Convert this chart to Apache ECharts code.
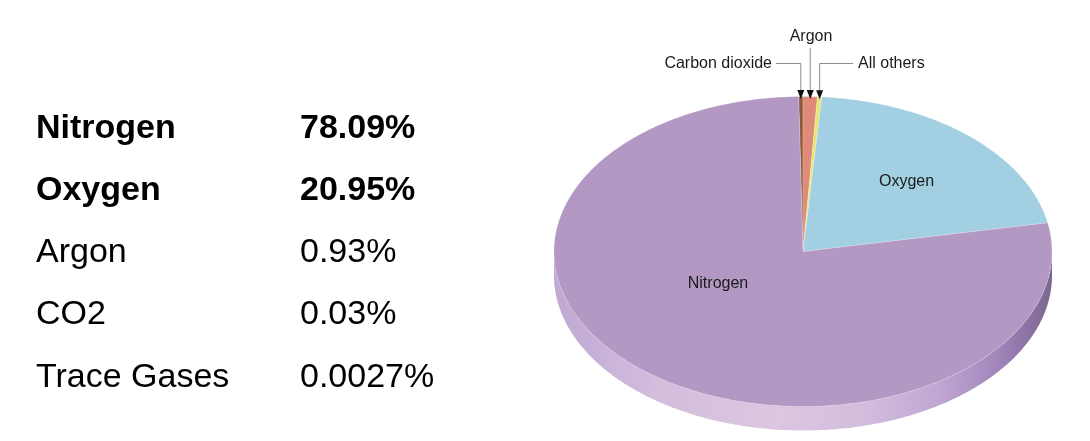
<!DOCTYPE html>
<html>
<head>
<meta charset="utf-8">
<script src="https://cdn.jsdelivr.net/npm/echarts@6/dist/echarts.min.js"></script>
<style>
html,body{margin:0;padding:0;background:#fff;}
#main{width:1090px;height:441px;}
</style>
</head>
<body>
<div id="main"></div>
<script>
// ---- data ----
const sliceNames = ['Carbon dioxide', 'Argon', 'All others', 'Oxygen', 'Nitrogen'];
const sliceValues = [0.03, 0.93, 0.0027, 20.95, 78.09];
const tableNames = ['Nitrogen', 'Oxygen', 'Argon', 'CO2', 'Trace Gases'];
const tableValues = ['78.09%', '20.95%', '0.93%', '0.03%', '0.0027%'];

// ---- styling / layout ----
const tableBold = [true, true, false, false, false];
const sliceColors = ['#8c5a3a', '#df8b78', '#e4e872', '#a2cfe1', '#b398c3'];
const PIE = { cx: 803, cy: 251.5, rx: 249, ry: 155, depth: 24, start: -1, minAngle: 1 };
const FONT = '"Liberation Sans", Arial, Helvetica, sans-serif';
const labelLayout = {
  'Nitrogen': { x: 718, y: 284, align: 'center' },
  'Oxygen': { x: 906.5, y: 182, align: 'center' },
  'Argon': { x: 811, y: 37, align: 'center', leader: 'vertical', lineTop: 48 },
  'Carbon dioxide': { x: 772, y: 64, align: 'right', leader: 'elbow', lineStart: 776, lineY: 63.5 },
  'All others': { x: 858, y: 64, align: 'left', leader: 'elbow', lineStart: 853, lineY: 63.5 }
};
const sideGradient = {
  type: 'linear', x: PIE.cx - PIE.rx, y: 0, x2: PIE.cx + PIE.rx, y2: 0, global: true,
  colorStops: [
    { offset: 0, color: '#c0a8d3' },
    { offset: 0.2, color: '#d2bddd' },
    { offset: 0.45, color: '#dcc6e1' },
    { offset: 0.62, color: '#d3bddd' },
    { offset: 0.76, color: '#c2a9d5' },
    { offset: 0.87, color: '#a88cc1' },
    { offset: 0.95, color: '#8d72a5' },
    { offset: 1, color: '#7a6690' }
  ]
};

// slice angular extents (degrees, clockwise from 12 o'clock), pie-style minAngle
function computeAngles(vals) {
  const total = vals.reduce((a, b) => a + b, 0);
  const small = vals.map(v => v / total * 360 < PIE.minAngle);
  const smallCount = small.filter(s => s).length;
  const restTotal = vals.reduce((a, v, i) => a + (small[i] ? 0 : v), 0);
  const restAngle = 360 - smallCount * PIE.minAngle;
  let cur = PIE.start;
  return vals.map((v, i) => {
    const span = small[i] ? PIE.minAngle : v / restTotal * restAngle;
    const r = [cur, cur + span];
    cur += span;
    return r;
  });
}
const angles = computeAngles(sliceValues);

function pt(theta, dy) {
  const t = theta * Math.PI / 180;
  return [PIE.cx + PIE.rx * Math.sin(t), PIE.cy - PIE.ry * Math.cos(t) + (dy || 0)];
}
function arcPoints(a, b, dy) {
  const pts = [];
  const n = Math.max(2, Math.ceil(Math.abs(b - a) / 0.5));
  for (let k = 0; k <= n; k++) pts.push(pt(a + (b - a) * k / n, dy));
  return pts;
}

function renderItem(params, api) {
  const i = params.dataIndex;
  const name = sliceNames[i];
  const [a, b] = angles[i];
  const children = [];
  // visible side (front half: 90..270)
  const fa = Math.max(a, 90), fb = Math.min(b, 270);
  if (fb > fa) {
    const top = arcPoints(fa, fb, 0);
    const bot = arcPoints(fb, fa, PIE.depth);
    children.push({
      type: 'polygon', shape: { points: top.concat(bot) },
      style: { fill: name === 'Nitrogen' ? sideGradient : sliceColors[i], stroke: null },
      z2: 1
    });
  }
  // top surface
  const pts = [[PIE.cx, PIE.cy]].concat(arcPoints(a, b, 0));
  children.push({
    type: 'polygon', shape: { points: pts },
    style: { fill: sliceColors[i], stroke: 'rgba(255,255,255,0.35)', lineWidth: 0.6, lineJoin: 'round' },
    z2: 2
  });
  // label
  const L = labelLayout[name];
  if (L) {
    children.push({
      type: 'text', x: L.x, y: L.y, z2: 5,
      style: { text: name, fontSize: 16, fontFamily: FONT, fill: '#1a1a1a', align: L.align, verticalAlign: 'middle' }
    });
    if (L.leader) {
      const mid = (a + b) / 2;
      const tip = pt(mid, 2.5);
      const tx = tip[0], ty = tip[1];
      let lpts;
      if (L.leader === 'elbow') {
        lpts = [[L.lineStart, L.lineY], [tx, L.lineY], [tx, ty - 8]];
      } else {
        lpts = [[tx, L.lineTop], [tx, ty - 8]];
      }
      children.push({
        type: 'polyline', shape: { points: lpts }, z2: 6,
        style: { stroke: '#8c8c8c', lineWidth: 1, fill: null }
      });
      children.push({
        type: 'polygon', shape: { points: [[tx - 3.5, ty - 9], [tx + 3.5, ty - 9], [tx, ty]] }, z2: 7,
        style: { fill: '#111' }
      });
    }
  }
  return { type: 'group', children: children };
}

// left-hand table
const tableGraphics = [];
tableNames.forEach((n, i) => {
  const y = 128.5 + i * 62.2;
  const w = tableBold[i] ? 'bold' : 'normal';
  tableGraphics.push({
    type: 'text', x: 36, y: y,
    style: { text: n, fontSize: 34, fontWeight: w, fontFamily: FONT, fill: '#000', verticalAlign: 'middle', align: 'left' }
  });
  tableGraphics.push({
    type: 'text', x: 300, y: y,
    style: { text: tableValues[i], fontSize: 34, fontWeight: w, fontFamily: FONT, fill: '#000', verticalAlign: 'middle', align: 'left' }
  });
});

const chart = echarts.init(document.getElementById('main'), null, { renderer: 'canvas' });
chart.setOption({
  backgroundColor: '#fff',
  animation: false,
  graphic: tableGraphics,
  series: [{
    type: 'custom',
    coordinateSystem: 'none',
    silent: true,
    renderItem: renderItem,
    data: sliceValues.map((v, i) => ({ name: sliceNames[i], value: v }))
  }]
});
</script>
</body>
</html>
